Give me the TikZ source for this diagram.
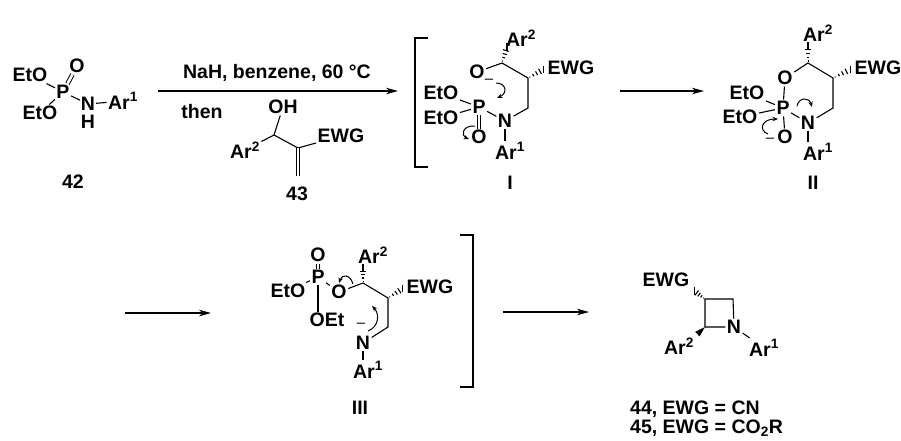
\documentclass[tikz,border=0pt]{standalone}
\usepackage{fontspec}
\setmainfont{Liberation Sans}
\usepackage{tikz}
\usetikzlibrary{arrows.meta, calc}

\newcommand{\chemfont}{\fontsize{19.5}{21}\selectfont\bfseries}
% hashed bond from stereocentre #1 towards #2
\newcommand{\hashbond}[2]{%
  \foreach \t in {0.12,0.34,0.56,0.78,1.0}{%
    \draw[line width=1.1pt] ($(#1)!\t!(#2)!{\t*3.8pt}!90:(#2)$) -- ($(#1)!\t!(#2)!{-\t*3.8pt}!90:(#2)$);
  }}
% bold wedge from #1 to #2
\newcommand{\wedgebond}[2]{%
  \fill ($(#2)!3.2pt!90:(#1)$) -- (#1) -- ($(#2)!3.2pt!-90:(#1)$) -- cycle;}

\begin{document}
\begin{tikzpicture}[x=1pt, y=-1pt,
  atom/.style={inner sep=1.4pt, font=\chemfont},
  bond/.style={line width=1.1pt},
  dbond/.style={double, double distance=2.6pt, line width=1pt},
  rxn/.style={line width=1.1pt, -{Stealth[length=12pt, width=6.5pt, inset=3.5pt]}},
  push/.style={line width=1pt, -{Stealth[length=5.5pt, width=4.5pt]}},
  chg/.style={inner sep=0pt, font=\fontsize{15}{15}\selectfont}]

\useasboundingbox (0,0) rectangle (901,440);

% Phosphoramidate 42
\node[atom] (P42) at (63,92) {P};
\node[atom] (O42) at (77,66) {O};
\node[atom] (EtOa42) at (30,75) {EtO};
\node[atom] (EtOb42) at (40,113) {EtO};
\node[atom, inner sep=0.8pt] (N42) at (88,104) {N};
\node[atom, inner sep=0.8pt] (H42) at (88,122) {H};
\node[atom] (Ar42) at (123,101) {Ar\textsuperscript{1}};
\node[atom] (L42) at (73,182) {42};
\draw[bond] (EtOa42) -- (P42);
\draw[bond] (EtOb42) -- (P42);
\draw[dbond] (P42) -- (O42);
\draw[bond] (P42) -- (N42);
\draw[bond] (N42) -- (Ar42);

% First arrow and conditions
\coordinate (a1s) at (158,91);
\coordinate (a1e) at (398,91);
\draw[rxn] (a1s) -- (a1e);
\node[atom] (cond) at (277,73) {NaH, benzene, 60 \textdegree C};
\node[atom] (then) at (202,112) {then};

% MBH alcohol 43
\coordinate (c1) at (274,135);
\coordinate (c2) at (298,148);
\coordinate (c3) at (298,176);
\node[atom] (OH43) at (283,107) {OH};
\node[atom] (Ar43) at (245,150) {Ar\textsuperscript{2}};
\node[atom] (EWG43) at (341,136) {EWG};
\node[atom] (L43) at (297,194) {43};
\draw[bond] (OH43) -- (c1) -- (c2) -- (EWG43);
\draw[bond] (c1) -- (Ar43);
\draw[dbond] (c2) -- (c3);

% Intermediate I
\draw[bond] (428,38) -- (415,38) -- (415,167) -- (428,167);
\coordinate (i6) at (502,63);
\coordinate (i5) at (528,78);
\coordinate (i4) at (528,108);
\coordinate (i6h) at (507,47);
\node[atom] (Oi) at (477,72) {O};
\node[atom] (Pi) at (479,107) {P};
\node[atom] (Ni) at (505,121) {N};
\node[atom] (Oci) at (479,137) {O};
\node[atom] (EtOai) at (441,93) {EtO};
\node[atom] (EtObi) at (441,118) {EtO};
\node[atom] (Ar1i) at (510,151) {Ar\textsuperscript{1}};
\node[atom] (Ar2i) at (521,38) {Ar\textsuperscript{2}};
\node[atom] (EWGi) at (571,68) {EWG};
\node[atom] (Li) at (510,183) {I};
\node[chg] (mi) at (489,81) {--};
\draw[bond] (Oi) -- (i6) -- (i5) -- (i4) -- (Ni) -- (Pi);
\draw[bond] (EtOai) -- (Pi);
\draw[bond] (EtObi) -- (Pi);
\draw[dbond] (Pi) -- (Oci);
\draw[bond] (Ni) -- (Ni |- Ar1i.north);
\hashbond{i6}{i6h}
\hashbond{i5}{$(i5)!0.85!(EWGi.west)$}
\draw[push] (496,83) .. controls (506,83) and (508,93) .. (497,98);
\draw[push] (475,126) .. controls (462,125) and (461,136) .. (469,139);

% Second arrow
\coordinate (a2s) at (620,91);
\coordinate (a2e) at (704,91);
\draw[rxn] (a2s) -- (a2e);

% Intermediate II
\coordinate (j6) at (808,63);
\coordinate (j5) at (833,78);
\coordinate (j4) at (833,108);
\node[atom] (Oj) at (785,78) {O};
\node[atom] (Pj) at (783,108) {P};
\node[atom] (Nj) at (808,123) {N};
\node[atom] (Ocj) at (785,137) {O};
\node[atom] (EtOaj) at (747,93) {EtO};
\node[atom] (EtObj) at (740,117) {EtO};
\node[atom] (Ar1j) at (818,152) {Ar\textsuperscript{1}};
\node[atom] (Ar2j) at (818,33) {Ar\textsuperscript{2}};
\node[atom] (EWGj) at (878,68) {EWG};
\node[atom] (Lj) at (813,183) {II};
\node[chg] (mj) at (770,140) {--};
\draw[bond] (Oj) -- (j6) -- (j5) -- (j4) -- (Nj) -- (Pj);
\draw[bond] (Oj) -- (Pj) -- (Ocj);
\draw[bond] (EtOaj) -- (Pj);
\draw[bond] (EtObj) -- (Pj);
\draw[bond] (Nj) -- (Nj |- Ar1j.north);
\hashbond{j6}{$(j6 |- Ar2j.south)+(0,3)$}
\hashbond{j5}{$(j5)!0.85!(EWGj.west)$}
\draw[push] (797,106) .. controls (799,97) and (809,97) .. (812,107);
\draw[push] (768,134) .. controls (758,130) and (762,119) .. (778,119);

% Third arrow
\coordinate (a3s) at (125,313);
\coordinate (a3e) at (211,313);
\draw[rxn] (a3s) -- (a3e);

% Open-chain anion III
\coordinate (k6) at (363,283);
\coordinate (k5) at (388,298);
\coordinate (k4) at (388,327);
\node[atom] (Pk) at (318,277) {P};
\node[atom] (Ok) at (318,255) {O};
\node[atom] (EtOk) at (288,291) {EtO};
\node[atom] (Oek) at (339,292) {O};
\node[atom, anchor=west] (OEtk) at (308,320) {OEt};
\node[atom] (Nk) at (363,343) {N};
\node[atom] (Ar1k) at (368,370) {Ar\textsuperscript{1}};
\node[atom] (Ar2k) at (373,255) {Ar\textsuperscript{2}};
\node[atom] (EWGk) at (430,287) {EWG};
\node[atom] (Lk) at (360,408) {III};
\node[chg] (mk) at (361,325) {--};
\draw[dbond] (Pk) -- (Ok);
\draw[bond] (EtOk) -- (Pk) -- (Oek) -- (k6) -- (k5) -- (k4) -- (Nk);
\draw[bond] (Pk) -- (Pk |- OEtk.north);
\draw[bond] (Nk) -- (Nk |- Ar1k.north);
\hashbond{k6}{$(k6 |- Ar2k.south)+(0,3)$}
\hashbond{k5}{$(k5)!0.85!(EWGk.west)$}
\draw[push] (353,284) .. controls (350,274) and (342,274) .. (339,283);
\draw[push] (368,331) .. controls (380,326) and (379,313) .. (372,306);
\draw[bond] (460,235) -- (473,235) -- (473,387) -- (460,387);

% Fourth arrow
\coordinate (a4s) at (503,312);
\coordinate (a4e) at (589,312);
\draw[rxn] (a4s) -- (a4e);

% Azetidines 44 and 45
\coordinate (z3) at (705,299);
\coordinate (z4) at (733,299);
\coordinate (z2) at (705,327);
\node[atom] (Nz) at (734,327) {N};
\node[atom] (EWGz) at (666,280) {EWG};
\node[atom] (Ar2z) at (679,346) {Ar\textsuperscript{2}};
\node[atom] (Ar1z) at (764,348) {Ar\textsuperscript{1}};
\draw[bond] (z2) -- (z3) -- (z4) -- (Nz) -- (z2);
\draw[bond] (Nz) -- (Ar1z);
\hashbond{z3}{$(z3)!0.75!(EWGz.south east)$}
\wedgebond{z2}{$(z2)!0.8!(Ar2z.north east)$}
\node[atom, anchor=west, inner sep=0pt] (L44) at (630,409) {44, EWG = CN};
\node[atom, anchor=west, inner sep=0pt] (L45) at (630,428) {45, EWG = CO\textsubscript{2}R};

\end{tikzpicture}
\end{document}
